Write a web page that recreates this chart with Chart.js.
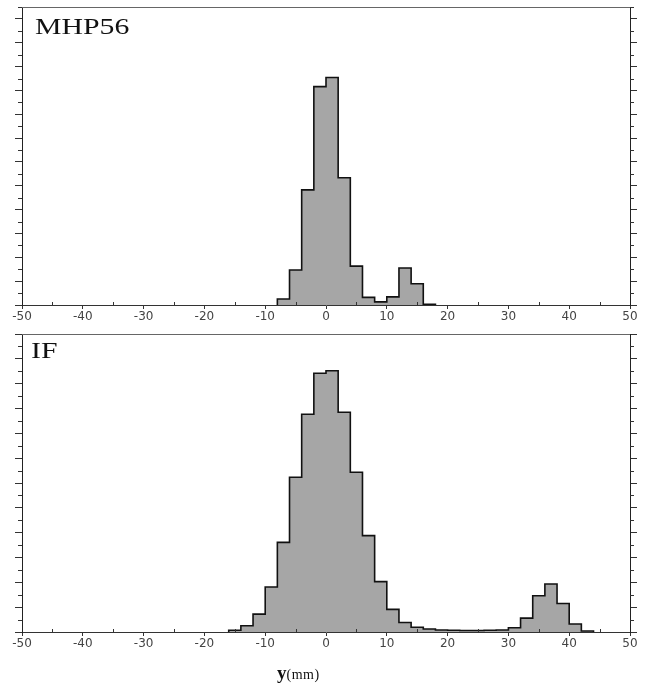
<!DOCTYPE html>
<html>
<head>
<meta charset="utf-8">
<script src="https://cdn.jsdelivr.net/npm/chart.js@4/dist/chart.umd.min.js"></script>
<style>
  body { margin: 0; background: #fff; }
  #wrap { position: relative; width: 650px; height: 684px; overflow: hidden; }
  canvas { position: absolute; left: 0; }
  .tag { position: absolute; font-family: "Liberation Serif", serif; font-size: 24px; line-height: 24px; color: #111; transform: scaleX(1.24); transform-origin: 0 0; }
  #xtitle { position: absolute; left: 277px; top: 664px; font-family: "Liberation Serif", serif; color: #111; line-height: 18px; }
  #xtitle b { font-size: 19px; }
  #xtitle span { font-size: 14px; letter-spacing: 0.5px; }
</style>
</head>
<body>
<div id="wrap">
  <canvas id="chartTop" width="650" height="325" style="top:0"></canvas>
  <canvas id="chartBottom" width="650" height="359" style="top:325px"></canvas>
  <div class="tag" style="left:35px;top:14px">MHP56</div>
  <div class="tag" style="left:31px;top:338px">IF</div>
  <div id="xtitle"><b>y</b><span>(mm)</span></div>
</div>
<script>
console.log("Entro a main.js")

// x axis tick labels (mm)
const xTickValues = [-50, -40, -30, -20, -10, 0, 10, 20, 30, 40, 50];

// MHP56 histogram: bin edges and heights (in y-axis major tick units)
const mhpEdges = [-8, -6, -4, -2, 0, 2, 4, 6, 8, 10, 12, 14, 16, 18];
const mhpCounts = [0.25, 1.47, 4.83, 9.16, 9.54, 5.34, 1.63, 0.32, 0.13, 0.34, 1.55, 0.89, 0.03];
const mhpYMax = 12.5;

// IF histogram
const ifEdges = [-16, -14, -12, -10, -8, -6, -4, -2, 0, 2, 4, 6, 8, 10, 12, 14,
  16, 18, 20, 22, 24, 26, 28, 30, 32, 34, 36, 38, 40, 42, 44];
const ifCounts = [0.07, 0.25, 0.72, 1.81, 3.61, 6.23, 8.77, 10.42, 10.52, 8.85,
  6.43, 3.88, 2.03, 0.91, 0.38, 0.19, 0.12, 0.08, 0.07, 0.06,
  0.06, 0.07, 0.08, 0.17, 0.56, 1.46, 1.93, 1.15, 0.32, 0.04];
const ifYMax = 12;

// turn edges + counts into a stepped outline
function stepPoints(edges, counts) {
  const pts = [{ x: edges[0], y: 0 }];
  for (let i = 0; i < counts.length; i++) {
    pts.push({ x: edges[i], y: counts[i] });
  }
  pts.push({ x: edges[edges.length - 1], y: 0 });
  return pts;
}

// top frame line + minor ticks
const frameTicks = {
  id: 'frameTicks',
  afterDraw(chart) {
    const ctx = chart.ctx;
    const a = chart.chartArea;
    const xs = chart.scales.x;
    const ys = chart.scales.y;
    ctx.save();
    ctx.lineWidth = 1;
    ctx.strokeStyle = '#666';
    ctx.beginPath();
    ctx.moveTo(a.left, a.top + 0.5);
    ctx.lineTo(a.right, a.top + 0.5);
    ctx.stroke();

    ctx.strokeStyle = '#333';
    ctx.beginPath();
    for (let v = xs.min + 5; v < xs.max; v += 10) {
      const px = Math.round(xs.getPixelForValue(v)) + 0.5;
      ctx.moveTo(px, a.bottom);
      ctx.lineTo(px, a.bottom - 3);
    }
    for (let v = 0.5; v <= ys.max; v += 1) {
      const py = Math.round(ys.getPixelForValue(v)) + 0.5;
      ctx.moveTo(a.left, py);
      ctx.lineTo(a.left - 4, py);
      ctx.moveTo(a.right, py);
      ctx.lineTo(a.right + 4, py);
    }
    ctx.stroke();
    ctx.restore();
  }
};

function yAxis(pos, yMax) {
  return {
    type: 'linear',
    position: pos,
    min: 0,
    max: yMax,
    ticks: { display: false, stepSize: 1, includeBounds: false },
    grid: { drawOnChartArea: false, drawTicks: true, tickLength: 7, color: '#333' },
    border: { display: true, color: '#222', width: 1 },
    afterFit: s => { s.width = pos === 'left' ? 22 : 20; }
  };
}

function makeChart(id, edges, counts, yMax, padTop, xHeight) {
  const ctx = document.getElementById(id).getContext('2d');
  return new Chart(ctx, {
    type: 'line',
    data: {
      datasets: [{
        data: stepPoints(edges, counts),
        stepped: 'before',
        fill: 'origin',
        backgroundColor: '#a6a6a6',
        borderColor: '#111',
        borderWidth: 1.6,
        pointRadius: 0,
        yAxisID: 'y'
      }]
    },
    options: {
      responsive: false,
      animation: false,
      devicePixelRatio: 1,
      layout: { padding: { top: padTop, left: 0, right: 0, bottom: 0 } },
      plugins: { legend: { display: false }, tooltip: { enabled: false } },
      scales: {
        x: {
          type: 'linear',
          min: -50,
          max: 50,
          afterBuildTicks: s => { s.ticks = xTickValues.map(v => ({ value: v })); },
          afterFit: s => { s.height = xHeight; },
          ticks: {
            autoSkip: false,
            maxRotation: 0,
            padding: 1,
            color: '#444',
            font: { family: 'DejaVu Sans', size: 12 }
          },
          grid: { drawOnChartArea: false, tickLength: 4, color: '#333' },
          border: { display: true, color: '#333', width: 1 }
        },
        y: yAxis('left', yMax),
        y2: yAxis('right', yMax)
      }
    },
    plugins: [frameTicks]
  });
}

makeChart('chartTop', mhpEdges, mhpCounts, mhpYMax, 7, 20);
makeChart('chartBottom', ifEdges, ifCounts, ifYMax, 9, 52);
</script>
</body>
</html>
